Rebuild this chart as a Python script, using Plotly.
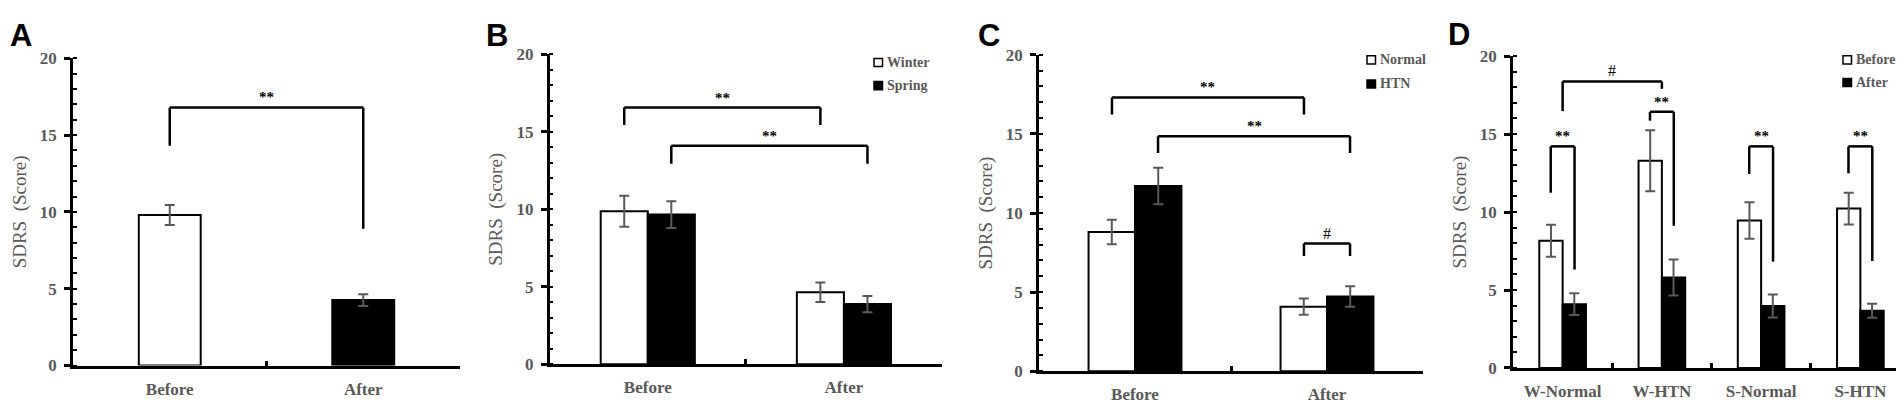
import plotly.graph_objs as go

# 数据
cats_ab = ["Before", "After"]
a_mean = [9.8, 4.26]
a_err = [0.65, 0.38]

b_names = ["Winter", "Spring"]
b_winter = [9.88, 4.65]
b_winter_err = [1.0, 0.63]
b_spring = [9.66, 3.88]
b_spring_err = [0.86, 0.52]

c_names = ["Normal", "HTN"]
c_normal = [8.8, 4.08]
c_normal_err = [0.78, 0.51]
c_htn = [11.71, 4.72]
c_htn_err = [1.15, 0.65]

d_names = ["Before", "After"]
d_cats = ["W-Normal", "W-HTN", "S-Normal", "S-HTN"]
d_before = [8.16, 13.29, 9.45, 10.22]
d_before_err = [1.02, 1.95, 1.17, 1.02]
d_after = [4.09, 5.8, 3.97, 3.67]
d_after_err = [0.7, 1.16, 0.74, 0.45]

# 显著性标记: (x0, x1, 顶部, 左腿底, 右腿底, 文字)
a_sig = [(0, 1, 16.8, 14.3, 8.9, "**")]
b_sig = [(-0.12, 0.88, 16.57, 15.45, 15.45, "**"),
         (0.12, 1.12, 14.1, 12.94, 12.94, "**")]
c_sig = [(-0.12, 0.88, 17.31, 16.23, 16.23, "**"),
         (0.12, 1.12, 14.86, 13.8, 13.8, "**"),
         (0.88, 1.12, 8.07, 7.29, 7.29, "#")]
d_sig = [(-0.12, 0.12, 14.21, 11.24, 6.31, "**"),
         (0.88, 1.12, 16.43, 15.86, 9.12, "**"),
         (1.88, 2.12, 14.21, 12.44, 6.82, "**"),
         (2.88, 3.12, 14.21, 12.48, 6.86, "**"),
         (0, 1, 18.37, 16.47, 17.9, "#")]

W, H = 1904, 404
GRAY = '#595959'
SERIF = 'Liberation Serif, Times New Roman, serif'


def px(x):
    return x / W


def py(y):
    return 1 - y / H


def bar(x, y, err, color, xa, ya, width, offset):
    return go.Bar(
        x=x, y=y, width=width, offset=offset,
        marker=dict(color=color, line=dict(color='black', width=2)),
        error_y=dict(type='data', array=err, color=GRAY, thickness=2, width=5),
        xaxis=xa, yaxis=ya, showlegend=False
    )


traces = [
    bar(cats_ab, a_mean, a_err, ['white', 'black'], 'x', 'y', 0.32, -0.16),
    bar(cats_ab, b_winter, b_winter_err, 'white', 'x2', 'y2', 0.24, -0.24),
    bar(cats_ab, b_spring, b_spring_err, 'black', 'x2', 'y2', 0.24, 0),
    bar(cats_ab, c_normal, c_normal_err, 'white', 'x3', 'y3', 0.242, -0.242),
    bar(cats_ab, c_htn, c_htn_err, 'black', 'x3', 'y3', 0.242, 0),
    bar(d_cats, d_before, d_before_err, 'white', 'x4', 'y4', 0.235, -0.235),
    bar(d_cats, d_after, d_after_err, 'black', 'x4', 'y4', 0.235, 0),
]

# 每个面板的位置 (像素)
panels = [
    dict(letter='A', lx=13, ly=19, x0=65, x1=452, y0=365.7, y1=43.3, n=2, sig=a_sig, legend=None),
    dict(letter='B', lx=489, ly=19, x0=541.7, x1=934, y0=364.3, y1=39.3, n=2, sig=b_sig,
         legend=(b_names, 866, 876.7, [47.7, 72])),
    dict(letter='C', lx=981.5, ly=19, x0=1031, x1=1415, y0=371.7, y1=39.7, n=2, sig=c_sig,
         legend=(c_names, 1359, 1370, [45, 70.3])),
    dict(letter='D', lx=1451, ly=18, x0=1505, x1=1902, y0=368.3, y1=41, n=4, sig=d_sig,
         legend=(d_names, 1835, 1845.7, [45, 68.7])),
]

layout = dict(
    width=W, height=H,
    margin=dict(l=0, r=0, t=0, b=0),
    paper_bgcolor='white', plot_bgcolor='white',
    barmode='overlay',
    showlegend=False,
    shapes=[], annotations=[]
)

for i, p in enumerate(panels):
    k = '' if i == 0 else str(i + 1)
    layout['xaxis' + k] = dict(
        domain=[px(p['x0']), px(p['x1'])], anchor='y' + k,
        type='category', range=[-0.5, p['n'] - 0.5],
        showline=True, linecolor='black', linewidth=2.5,
        ticks='inside', tickson='boundaries', ticklen=5, tickwidth=2.5, tickcolor='black',
        showgrid=False, zeroline=False,
        tickfont=dict(family=SERIF, size=17, color=GRAY, weight='bold'),
        ticklabelstandoff=6,
        fixedrange=True
    )
    layout['yaxis' + k] = dict(
        domain=[py(p['y0']), py(p['y1'])], anchor='x' + k,
        range=[0, 20], dtick=5,
        showline=True, linecolor='black', linewidth=2.5,
        ticks='outside', ticklen=6, tickwidth=2.5, tickcolor='black',
        minor=dict(dtick=1, ticks='inside', ticklen=4, tickwidth=2, tickcolor='black'),
        showgrid=False, zeroline=False,
        tickfont=dict(family=SERIF, size=17, color=GRAY, weight='bold'),
        ticklabelstandoff=4,
        title=dict(text='SDRS\u00a0\u00a0(Score)', standoff=9,
                   font=dict(family=SERIF, size=19, color=GRAY)),
        fixedrange=True
    )

    # 面板字母
    layout['annotations'].append(dict(
        text=p['letter'], x=px(p['lx']), y=py(p['ly']), xref='paper', yref='paper',
        showarrow=False, xanchor='center', yanchor='middle',
        font=dict(family='Liberation Sans, Arial, sans-serif', size=31, color='black', weight='bold')
    ))

    # 显著性括号
    xr, yr = 'x' + k, 'y' + k
    for (sx0, sx1, top, yl, yrr, txt) in p['sig']:
        line = dict(color='black', width=2.5)
        layout['shapes'].append(dict(type='line', xref=xr, yref=yr, x0=sx0, x1=sx0, y0=yl, y1=top, line=line))
        layout['shapes'].append(dict(type='line', xref=xr, yref=yr, x0=sx0, x1=sx1, y0=top, y1=top, line=line))
        layout['shapes'].append(dict(type='line', xref=xr, yref=yr, x0=sx1, x1=sx1, y0=yrr, y1=top, line=line))
        if txt == '#':
            f = dict(family=SERIF, size=16, color='black')
        else:
            f = dict(family=SERIF, size=15, color='black', weight='bold')
        layout['annotations'].append(dict(
            text=txt, x=(sx0 + sx1) / 2, y=top, xref=xr, yref=yr,
            showarrow=False, xanchor='center', yanchor='bottom', font=f
        ))

    # 图例
    if p['legend']:
        names, sq_x, tx, ys = p['legend']
        for j, (name, yy) in enumerate(zip(names, ys)):
            layout['shapes'].append(dict(
                type='rect', xref='paper', yref='paper',
                x0=px(sq_x), x1=px(sq_x + 8.5), y0=py(yy + 4.25), y1=py(yy - 4.25),
                fillcolor='white' if j == 0 else 'black',
                line=dict(color='black', width=1.5)
            ))
            layout['annotations'].append(dict(
                text=name, x=px(tx), y=py(yy), xref='paper', yref='paper',
                showarrow=False, xanchor='left', yanchor='middle',
                font=dict(family=SERIF, size=14, color=GRAY, weight='bold')
            ))

figure = go.Figure(data=traces, layout=go.Layout(**layout))
figure.write_html("out.html")
